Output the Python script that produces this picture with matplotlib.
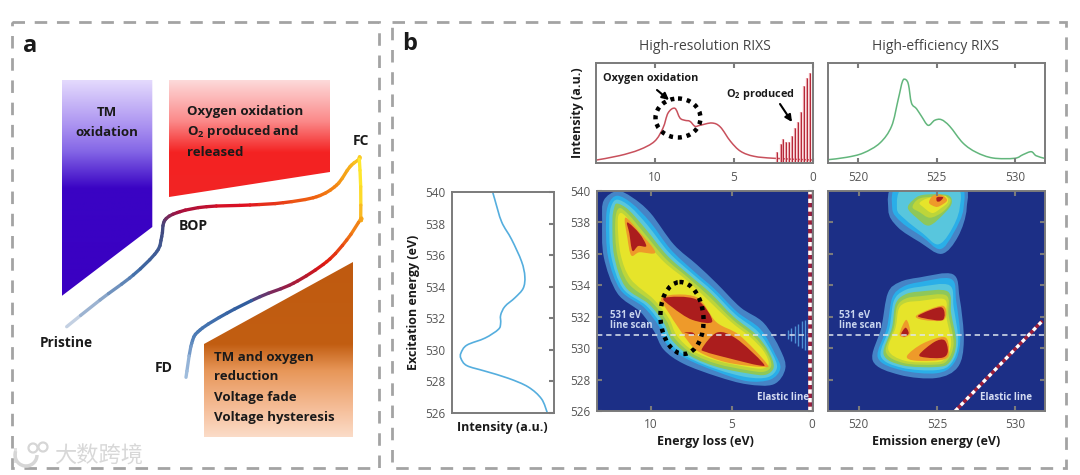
import numpy as np
import matplotlib
matplotlib.use('Agg')
import matplotlib.pyplot as plt
from matplotlib.collections import LineCollection
from matplotlib.colors import LinearSegmentedColormap
from matplotlib.patches import Arc, Ellipse, PathPatch, Polygon, Rectangle
from matplotlib.path import Path

plt.rcParams['font.family'] = ['Open Sans', 'DejaVu Sans']
plt.rcParams['mathtext.fontset'] = 'custom'
plt.rcParams['mathtext.rm'] = 'Open Sans:bold'

W, H = 1080, 475

# ---- line scans
rixs_loss = [13.77, 12.23, 10.96, 10.0, 9.47, 9.15, 8.72, 8.4, 8.09, 7.77, 7.45, 7.13, 6.38, 5.85, 5.21, 4.57, 3.72, 2.45, 0.0]
rixs_int = [2.7, 7.3, 13.3, 21.7, 35, 50, 54.7, 45, 42.7, 41.7, 36.7, 37.7, 40, 36, 21.7, 11.7, 6.7, 4.7, 3]
o2_loss = [2.25, 2.04, 1.87, 1.7, 1.51, 1.34, 1.13, 0.94, 0.73, 0.54, 0.35, 0.16]
o2_int = [11, 19, 24, 21, 21, 27, 35, 41, 51, 77, 85, 90]

eff_energy = [518.07, 519.26, 520.32, 521.38, 522.12, 522.54, 522.82, 523.03, 523.2, 523.39, 523.71, 524.03, 524.45, 524.87, 525.3, 525.83, 526.67, 527.52, 528.58, 529.96, 530.49, 531.02, 531.33, 531.86]
eff_int = [3.3, 5.7, 10, 20, 36.7, 63.3, 81.7, 83.3, 78.3, 60, 54.3, 46.7, 37.7, 42.7, 43.3, 36.7, 20, 10.7, 5, 4.7, 8.3, 11.3, 7.3, 4.7]

scan_int = [39.9, 42.2, 48.7, 58.4, 68.2, 71.4, 69.8, 61.7, 51.9, 47.7, 47.7, 45.5, 32.5, 14.6, 8.8, 8.8, 14.6, 32.5, 55.2, 74.7, 87.7, 93.5]
scan_exc = [540, 539.47, 538.1, 537.0, 535.6, 534.65, 533.9, 533.3, 532.75, 532.2, 531.7, 531.3, 530.75, 530.3, 529.8, 529.45, 529.0, 528.65, 528.2, 527.65, 526.9, 526.0]

# ---- contour outlines of the loss map (loss eV, excitation eV)
loss_blue = [(12.1, 540), (11.18, 539.6), (10.04, 538.6), (8.59, 536.6), (7.14, 535.3), (5.9, 534.1), (4.45, 532.6), (3.0, 531.6), (1.97, 529.9), (1.66, 528.7), (2.38, 527.7), (4.04, 527.7), (5.9, 528.2), (7.97, 529.0), (9.21, 529.9), (9.83, 531.1), (10.66, 532.3), (12.1, 533.5), (12.94, 535.8), (13.04, 538.1), (12.94, 539.4)]
loss_sky = [(12.1, 539.7), (11.18, 539.2), (10.04, 538.0), (8.8, 536.3), (7.35, 534.9), (6.1, 533.8), (4.65, 532.3), (3.2, 531.2), (2.28, 529.6), (1.97, 528.7), (2.59, 528.0), (4.04, 527.9), (5.9, 528.5), (7.76, 529.3), (8.99, 530.2), (9.52, 531.4), (10.45, 532.6), (11.9, 533.7), (12.67, 535.8), (12.8, 538.1), (12.63, 539.2)]
loss_cyan = [(12.1, 539.45), (11.29, 539.0), (10.2, 537.8), (8.9, 536.1), (7.45, 534.75), (6.2, 533.65), (4.76, 532.15), (3.36, 531.05), (2.49, 529.7), (2.18, 528.75), (2.75, 528.15), (4.04, 528.15), (5.9, 528.65), (7.66, 529.4), (8.85, 530.35), (9.37, 531.5), (10.3, 532.7), (11.75, 533.8), (12.48, 535.85), (12.6, 538.1), (12.47, 539.05)]
loss_green = [(12.1, 539.2), (11.4, 538.8), (10.35, 537.6), (9.0, 535.9), (7.56, 534.6), (6.3, 533.5), (4.87, 532.0), (3.52, 530.9), (2.7, 529.8), (2.38, 528.8), (2.9, 528.3), (4.04, 528.4), (5.9, 528.8), (7.56, 529.5), (8.7, 530.5), (9.21, 531.6), (10.14, 532.8), (11.6, 533.9), (12.3, 535.9), (12.4, 538.1), (12.3, 538.9)]
loss_lime = [(12.0, 538.9), (11.4, 538.5), (10.45, 537.35), (9.1, 535.7), (7.66, 534.45), (6.4, 533.3), (4.97, 531.85), (3.67, 530.8), (2.85, 529.8), (2.53, 528.9), (3.0, 528.5), (4.04, 528.6), (5.9, 529.0), (7.45, 529.65), (8.55, 530.65), (9.05, 531.75), (9.98, 532.95), (11.43, 534.15), (12.1, 535.95), (12.23, 538.0)]
loss_yellow = [(11.9, 538.6), (11.4, 538.2), (10.56, 537.1), (9.21, 535.5), (7.76, 534.3), (6.5, 533.1), (5.07, 531.7), (3.83, 530.7), (3.0, 529.8), (2.69, 529.0), (3.1, 528.7), (4.04, 528.8), (5.9, 529.2), (7.35, 529.8), (8.4, 530.8), (8.9, 531.9), (9.83, 533.1), (11.27, 534.4), (11.9, 536.0), (12.07, 538.0)]
loss_orange = [[(11.6, 538.3), (10.73, 537.4), (9.74, 536.1), (10.73, 536.1), (11.23, 535.9), (11.47, 537.0)],
               [(9.3, 533.25), (7.19, 533.25), (5.95, 531.66), (4.52, 530.83), (2.84, 529.05), (3.09, 528.8), (5.33, 529.1), (7.0, 529.75), (7.75, 530.5), (8.87, 532.2)]]
loss_red = [[(11.47, 538.0), (10.73, 537.3), (10.3, 536.5), (10.8, 536.5), (11.16, 536.2), (11.35, 537.3)],
            [(9.18, 533.2), (7.19, 533.1), (6.2, 531.7), (7.44, 531.8), (8.68, 532.6)],
            [(6.82, 530.0), (5.88, 531.0), (4.7, 530.6), (3.09, 529.1), (3.28, 528.9), (5.33, 529.4), (6.57, 529.75)],
            [(7.93, 531.0), (7.44, 531.0), (7.3, 530.83), (7.8, 530.96)]]

# ---- contour outlines of the emission map (emission eV, excitation eV)
emi_blue = [[(522.45, 540.5), (526.5, 540.5), (526.9, 538.9), (526.35, 537.1), (525.3, 536.0), (523.9, 536.75), (522.5, 537.7), (521.9, 538.8)],
            [(523.89, 534.5), (526.02, 534.7), (526.45, 533.2), (526.72, 530.5), (526.34, 528.8), (524.96, 528.1), (522.62, 528.3), (520.91, 529.2), (521.45, 531.3), (521.87, 533.5), (522.62, 534.2)]]
emi_sky = [[(522.65, 540.5), (526.3, 540.5), (526.7, 538.9), (526.05, 537.3), (525.2, 536.3), (524.05, 537.1), (522.75, 538.0), (522.15, 538.9)],
           [(523.89, 534.2), (525.91, 534.4), (526.23, 533.0), (526.49, 530.5), (526.06, 529.0), (524.96, 528.4), (522.72, 528.6), (521.23, 529.4), (521.81, 531.3), (522.15, 533.2), (522.83, 533.9)]]
emi_cyan = [[(522.97, 540.3), (526.15, 540.3), (526.45, 538.9), (525.85, 537.4), (525.05, 536.6), (524.1, 537.3), (522.97, 538.2), (522.45, 538.9)],
            [(523.89, 533.9), (525.8, 534.0), (526.07, 532.6), (526.36, 530.4), (525.93, 529.05), (524.96, 528.6), (522.78, 528.75), (521.42, 529.5), (521.97, 531.3), (522.25, 533.0), (522.88, 533.65)]]
emi_green = [[(524.1, 539.75), (525.65, 539.75), (525.95, 539.25), (525.5, 538.6), (524.5, 537.8), (523.7, 538.3), (523.15, 538.9), (523.45, 539.4)],
             [(523.89, 533.6), (525.7, 533.6), (525.91, 532.2), (526.23, 530.3), (525.81, 529.1), (524.96, 528.8), (522.83, 528.9), (521.6, 529.6), (522.13, 531.3), (522.36, 532.8), (522.94, 533.4)]]
emi_lime = [[(524.25, 539.6), (525.65, 539.6), (525.85, 539.25), (525.35, 538.65), (524.55, 538.3), (523.9, 538.65), (523.45, 538.95), (523.7, 539.4)],
            [(523.89, 533.3), (525.6, 533.35), (525.75, 532.1), (526.07, 530.3), (525.65, 529.2), (524.85, 528.95), (522.88, 529.05), (521.75, 529.75), (522.25, 531.3), (522.46, 532.65), (523.0, 533.15)]]
emi_yellow = [[(524.45, 539.55), (525.5, 539.7), (525.7, 539.3), (525.25, 538.9), (524.7, 538.6), (524.1, 539.0), (523.9, 539.25)],
              [(523.89, 533.0), (525.49, 533.1), (525.6, 532.0), (525.91, 530.3), (525.49, 529.3), (524.74, 529.1), (522.94, 529.2), (521.9, 529.9), (522.36, 531.3), (522.57, 532.5), (523.04, 532.9)]]
emi_orange = [[(524.75, 539.7), (525.3, 539.75), (525.65, 539.4), (525.2, 539.05), (524.9, 539.0), (524.5, 539.25)],
              [(523.72, 532.1), (525.38, 532.7), (525.45, 531.8), (524.11, 531.8)],
              [(523.09, 529.5), (524.11, 530.3), (525.49, 530.7), (525.77, 529.9), (525.49, 529.3), (523.68, 529.2)],
              [(522.62, 530.9), (523.04, 531.8), (523.3, 531.0), (522.94, 530.7)]]
emi_red = [[(525.0, 539.6), (525.4, 539.6), (525.2, 539.35), (525.0, 539.35)],
           [(523.85, 532.1), (525.28, 532.6), (525.38, 531.8), (524.2, 531.9)],
           [(523.89, 529.6), (524.85, 530.4), (525.49, 530.5), (525.7, 529.8), (525.38, 529.4), (524.32, 529.4)],
           [(522.72, 530.9), (523.0, 531.3), (523.2, 530.95), (522.94, 530.75)]]

comb_loss = [1.49, 1.28, 1.07, 0.86, 0.65, 0.44, 0.23]
comb_half = [0.3, 0.42, 0.55, 0.7, 0.85, 0.95, 1.0]

# ---- panel a cycling curve, in image pixels (corners listed twice)
curve_x = [66.7, 100, 133.3, 156.7, 161.7, 165, 180, 206.7, 250, 283.3, 316.7, 336.7, 350, 359.3, 359.3, 360.7, 360.7, 360.7, 346.7, 326.7, 293.3, 260, 226.7, 200, 191.7, 186]
curve_y = [326.7, 300, 275, 251.7, 236.7, 220, 211.7, 206.7, 205, 202.7, 196.7, 185, 166.7, 159.3, 159.3, 186.7, 219, 219, 240, 261.7, 283.3, 296.7, 313.3, 330, 343.3, 377.3]
curve_colors = [(0, '#c3d0e2'), (0.12, '#3e6ca8'), (0.19, '#42497f'), (0.225, '#a3103f'), (0.33, '#df1020'), (0.44, '#f0680f'), (0.5, '#f6a818'), (0.545, '#fee82f'), (0.59, '#fee42c'), (0.635, '#f59a18'), (0.72, '#e01510'), (0.8, '#8a2050'), (0.86, '#2f5a9c'), (0.94, '#4a7ab5'), (1, '#9fbcdc')]

LEVELS = ['#4684c6', '#2aaee8', '#58c6dd', '#8ec75a', '#bdd53a', '#e6e42a', '#ee9a2a', '#ab1d1d']
NAVY = '#1c2f86'
GREY = '#7b7b7b'
TICK = '#555555'


def bezier(xs, ys, closed=False):
    # Catmull-Rom handles turned into matplotlib cubic segments
    p = np.column_stack([xs, ys]).astype(float)
    n = len(p)
    verts = [p[0]]
    codes = [Path.MOVETO]
    for i in range(n if closed else n - 1):
        if closed:
            p0, p1, p2, p3 = p[(i - 1) % n], p[i], p[(i + 1) % n], p[(i + 2) % n]
        else:
            p0, p1, p2, p3 = p[max(i - 1, 0)], p[i], p[i + 1], p[min(i + 2, n - 1)]
        verts += [p1 + (p2 - p0) / 6, p2 - (p3 - p1) / 6, p2]
        codes += [Path.CURVE4] * 3
    return Path(verts, codes)


def px_axes(x0, y0, x1, y1):
    return fig.add_axes([x0 / W, 1 - y1 / H, (x1 - x0) / W, (y1 - y0) / H])


def frame(ax):
    for s in ax.spines.values():
        s.set_color(GREY)
        s.set_linewidth(1.4)
    ax.tick_params(direction='in', length=3.5, width=1.5, color=GREY, labelcolor=TICK, labelsize=8.5,
                   top=True, right=True, pad=5)


def fill_outline(ax, pts, color):
    xs, ys = zip(*pts)
    ax.add_patch(PathPatch(bezier(xs, ys, closed=True), fc=color, ec='none'))


fig = plt.figure(figsize=(W / 100, H / 100), dpi=100)

# top panels
ax1 = px_axes(596, 63, 813, 163)
frame(ax1)
ax1.add_patch(PathPatch(bezier(rixs_loss, rixs_int), fc='none', ec='#c8505c', lw=1.1))
ax1.vlines(o2_loss, 1, o2_int, color='#eda6ad', lw=1.6)
ax1.vlines(o2_loss, 1, o2_int, color='#b52a3a', lw=0.8)
ax1.set_xlim(13.7, 0)
ax1.set_ylim(0, 100)
ax1.set_xticks([10, 5, 0])
ax1.set_yticks([])
ax1.tick_params(axis='x', pad=6)

ax2 = px_axes(828, 63, 1045, 163)
frame(ax2)
ax2.add_patch(PathPatch(bezier(eff_energy, eff_int), fc='none', ec='#62b67c', lw=1.1))
ax2.set_xlim(518.07, 531.9)
ax2.set_ylim(0, 100)
ax2.set_xticks([520, 525, 530])
ax2.set_yticks([])
ax2.tick_params(axis='x', pad=6)

# excitation line scan
ax3 = px_axes(452, 192, 554, 413)
frame(ax3)
ax3.add_patch(PathPatch(bezier(scan_int, scan_exc), fc='none', ec='#55aede', lw=1.2))
ax3.set_xlim(0, 100)
ax3.set_ylim(526, 540)
ax3.set_xticks([])
ax3.set_yticks(np.arange(526, 541, 2))
ax3.tick_params(left=False, right=True)

# loss map
ax4 = px_axes(597, 191, 813, 411)
frame(ax4)
ax4.set_facecolor(NAVY)
for pts, c in zip([loss_blue, loss_sky, loss_cyan, loss_green, loss_lime, loss_yellow], LEVELS):
    fill_outline(ax4, pts, c)
for pts in loss_orange:
    fill_outline(ax4, pts, LEVELS[6])
for pts in loss_red:
    fill_outline(ax4, pts, LEVELS[7])
for x, h in zip(comb_loss, comb_half):
    ax4.vlines(x, 530.85 - h, 530.85 + h, color='#4d8fd4', lw=1.0)
ax4.axhline(530.85, xmax=0.985, color='#dfe6ee', lw=1.1, ls=(0, (3.5, 2.5)))
ax4.axvline(0.12, color='#9c1f3a', lw=2.6)
ax4.axvline(0.12, color='white', lw=2.6, ls=(0, (1.2, 1.2)))
ax4.set_xlim(13.36, -0.06)
ax4.set_ylim(526, 540)
ax4.set_xticks([10, 5, 0])
ax4.set_yticks(np.arange(526, 541, 2))

# emission map
ax5 = px_axes(828, 191, 1045, 411)
frame(ax5)
ax5.set_facecolor(NAVY)
for pts_list, c in zip([emi_blue, emi_sky, emi_cyan, emi_green, emi_lime, emi_yellow, emi_orange, emi_red], LEVELS):
    for pts in pts_list:
        fill_outline(ax5, pts, c)
ax5.axhline(530.85, color='#dfe6ee', lw=1.1, ls=(0, (3.5, 2.5)))
ax5.plot([526.17, 531.66], [526, 531.66], color='#9c1f3a', lw=2.4)
ax5.plot([526.17, 531.66], [526, 531.66], color='white', lw=2.4, ls=(0, (1.2, 1.2)))
ax5.set_xlim(518.05, 531.9)
ax5.set_ylim(526, 540)
ax5.set_xticks([520, 525, 530])
ax5.set_yticks(np.arange(528, 540, 2))
ax5.tick_params(axis='y', labelleft=False)

# canvas in image pixels for panel a, frames and all annotations
cv = fig.add_axes([0, 0, 1, 1], zorder=10)
cv.patch.set_alpha(0)
cv.axis('off')

for x0, x1 in [(12, 379), (392, 1066)]:
    cv.add_patch(Rectangle((x0, 22), x1 - x0, 446, fc='none', ec='#a3a3a3', lw=2, ls=(0, (4.5, 3.5))))


def gradient_box(verts, stops):
    cmap = LinearSegmentedColormap.from_list('g', stops)
    ys = [v[1] for v in verts]
    xs = [v[0] for v in verts]
    im = cv.imshow(np.linspace(0, 1, 256)[:, None], cmap=cmap, aspect='auto',
                   extent=(min(xs), max(xs), max(ys), min(ys)), zorder=1)
    poly = Polygon(verts, closed=True, transform=cv.transData, fc='none', ec='none')
    cv.add_patch(poly)
    im.set_clip_path(poly)


gradient_box([(61.7, 80), (152.3, 80), (152.3, 227), (61.7, 296)],
             [(0, '#e4dafd'), (0.22, '#a88ff0'), (0.33, '#8466e6'), (0.5, '#3a04c4'), (1, '#3a00c2')])
gradient_box([(169, 80), (330, 80), (330, 172), (169, 197)],
             [(0, '#fddada'), (0.35, '#fb8a8a'), (0.62, '#f42222'), (1, '#f22424')])
gradient_box([(204, 344), (353, 262), (353, 437), (204, 437)],
             [(0, '#bf5a10'), (0.47, '#c25e12'), (0.62, '#e79658'), (0.85, '#f6c09c'), (1, '#fbdcc8')])

curve = bezier(curve_x, curve_y)
line = curve.to_polygons(closed_only=False)[0]
segs = np.stack([line[:-1], line[1:]], axis=1)
frac = np.cumsum(np.hypot(*(line[1:] - line[:-1]).T))
frac = frac / frac[-1]
cv.add_collection(LineCollection(segs, cmap=LinearSegmentedColormap.from_list('c', curve_colors),
                                 array=frac, linewidths=2.4, capstyle='round', zorder=2))

bold = dict(fontweight='bold', color='#1a1a1a', va='center', zorder=5)
O2 = 'O$_{\\mathrm{2}}$'
cv.text(30, 46, 'a', fontsize=17, ha='center', **bold)
cv.text(410, 44, 'b', fontsize=17, ha='center', **bold)
for txt, y in [('TM', 112), ('oxidation', 132)]:
    cv.text(107, y, txt, fontsize=9.5, ha='center', **bold)
for txt, y in [('Oxygen oxidation', 112), (O2 + ' produced and', 132), ('released', 152)]:
    cv.text(187, y, txt, fontsize=9.5, **bold)
for txt, y in [('TM and oxygen', 357), ('reduction', 377), ('Voltage fade', 397), ('Voltage hysteresis', 417)]:
    cv.text(214, y, txt, fontsize=9.5, **bold)
cv.text(361, 141, 'FC', fontsize=10, ha='center', **bold)
cv.text(179, 226, 'BOP', fontsize=10, **bold)
cv.text(40, 343, 'Pristine', fontsize=9.8, **bold)
cv.text(155, 368, 'FD', fontsize=10, **bold)

cv.text(705, 46, 'High-resolution RIXS', fontsize=10, color='#444444', ha='center', va='center')
cv.text(936, 46, 'High-efficiency RIXS', fontsize=10, color='#444444', ha='center', va='center')
cv.text(705, 441, 'Energy loss (eV)', fontsize=9, ha='center', **bold)
cv.text(936, 441, 'Emission energy (eV)', fontsize=9, ha='center', **bold)
cv.text(502, 428, 'Intensity (a.u.)', fontsize=9, ha='center', **bold)
cv.text(413, 302, 'Excitation energy (eV)', fontsize=9, ha='center', rotation=90, **bold)
cv.text(577, 113, 'Intensity (a.u.)', fontsize=9, ha='center', rotation=90, **bold)
cv.text(603, 79, 'Oxygen oxidation', fontsize=7.8, **bold)
cv.text(726, 94, O2 + ' produced', fontsize=7.8, **bold)

for x in (610, 839):
    cv.text(x, 315, '531 eV', fontsize=7, fontweight='bold', color='#c8d4ee', va='center')
    cv.text(x, 326, 'line scan', fontsize=7, fontweight='bold', color='#c8d4ee', va='center')
cv.text(757, 398, 'Elastic line', fontsize=7, fontweight='bold', color='#d5dcf2', va='center')
cv.text(980, 398, 'Elastic line', fontsize=7, fontweight='bold', color='#d5dcf2', va='center')

for a, b in [((657, 90), (669, 100)), ((780, 104), (792, 122))]:
    cv.annotate('', xy=b, xytext=a, arrowprops=dict(arrowstyle='-|>', color='black', lw=1.5, shrinkA=0, shrinkB=0))
cv.add_patch(Ellipse((678, 118), 45, 39, fc='none', ec='black', lw=3.2, ls=(0, (0.9, 1.1))))
cv.add_patch(Ellipse((682, 318), 43, 72, angle=-4, fc='none', ec='black', lw=3.2, ls=(0, (0.9, 1.1))))

# watermark
cv.text(54, 456, '大数跨境', fontsize=16, color='#d8d8d8', family=['Noto Sans CJK SC', 'DejaVu Sans'], va='center')
cv.add_patch(Rectangle((14, 448), 3, 15, fc='#e2e2e2', ec='none'))
cv.add_patch(Arc((26, 455), 22, 22, theta1=0, theta2=200, ec='#d6d6d6', lw=2.5))
cv.add_patch(Ellipse((33, 448), 9, 9, fc='white', ec='#d6d6d6', lw=1.6))
cv.add_patch(Ellipse((43, 447), 9, 9, fc='white', ec='#d6d6d6', lw=1.6))

cv.set_xlim(0, W)
cv.set_ylim(H, 0)

fig.savefig('out.png', dpi=100)
